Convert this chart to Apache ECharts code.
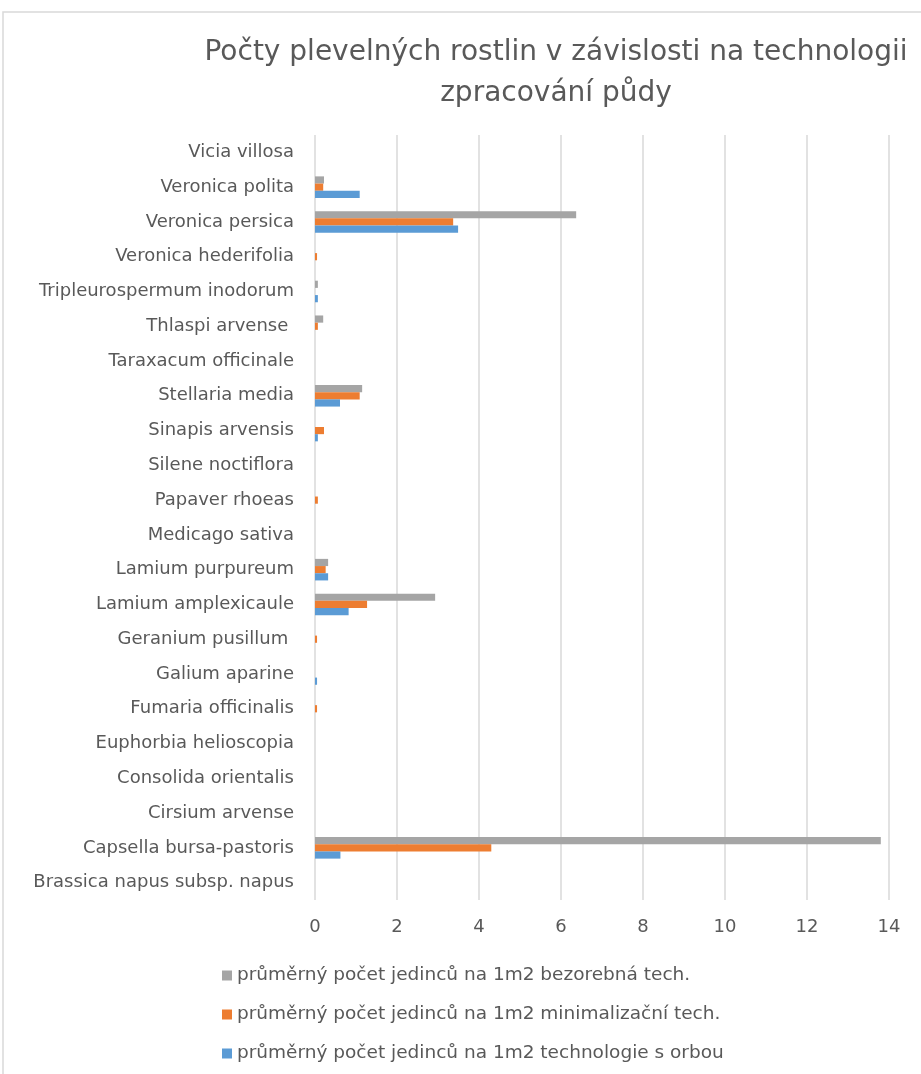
<!DOCTYPE html>
<html>
<head>
<meta charset="utf-8">
<script src="https://cdn.jsdelivr.net/npm/echarts@6/dist/echarts.min.js"></script>
<style>
  html, body { margin: 0; padding: 0; background: #fff; }
  #chart { width: 921px; height: 1074px; }
</style>
</head>
<body>
<div id="chart"></div>
<script>
// Species, listed from the bottom of the chart upwards
const categories = [
  'Brassica napus subsp. napus',
  'Capsella bursa-pastoris',
  'Cirsium arvense',
  'Consolida orientalis',
  'Euphorbia helioscopia',
  'Fumaria officinalis',
  'Galium aparine',
  'Geranium pusillum ',
  'Lamium amplexicaule',
  'Lamium purpureum',
  'Medicago sativa',
  'Papaver rhoeas',
  'Silene noctiflora',
  'Sinapis arvensis',
  'Stellaria media',
  'Taraxacum officinale',
  'Thlaspi arvense ',
  'Tripleurospermum inodorum',
  'Veronica hederifolia',
  'Veronica persica',
  'Veronica polita',
  'Vicia villosa'
];

// Average number of individuals per 1 m2
const noTillage = [0, 13.8, 0, 0, 0, 0, 0, 0, 2.93, 0.32, 0, 0, 0, 0, 1.15, 0, 0.2, 0.07, 0, 6.37, 0.22, 0];
const minimumTillage = [0, 4.3, 0, 0, 0, 0.05, 0, 0.05, 1.27, 0.26, 0, 0.07, 0, 0.22, 1.09, 0, 0.07, 0, 0.05, 3.37, 0.2, 0];
const ploughing = [0, 0.62, 0, 0, 0, 0, 0.05, 0, 0.82, 0.32, 0, 0, 0, 0.07, 0.61, 0, 0, 0.07, 0, 3.49, 1.09, 0];

const seriesNames = [
  'průměrný počet jedinců na 1m2 bezorebná tech.',
  'průměrný počet jedinců na 1m2 minimalizační tech.',
  'průměrný počet jedinců na 1m2 technologie s orbou'
];

const xTicks = { min: 0, max: 14, interval: 2 };

const textColor = '#595959';
const fontFamily = '"DejaVu Sans", "Noto Sans", sans-serif';

const chart = echarts.init(document.getElementById('chart'));

chart.setOption({
  animation: false,
  textStyle: { fontFamily: fontFamily },
  graphic: [{
    type: 'rect',
    shape: { x: 3, y: 12, width: 940, height: 1080 },
    style: { fill: 'none', stroke: '#d9d9d9', lineWidth: 1.5 },
    silent: true
  }],
  title: {
    text: 'Počty plevelných rostlin v závislosti na technologii\nzpracování půdy',
    left: 551,
    top: 27,
    textAlign: 'center',
    textStyle: {
      color: textColor,
      fontSize: 28,
      fontWeight: 'normal',
      fontFamily: fontFamily,
      lineHeight: 41
    }
  },
  legend: {
    orient: 'vertical',
    left: 217,
    top: 961,
    itemWidth: 10,
    itemHeight: 10,
    itemGap: 20,
    icon: 'rect',
    data: [seriesNames[0], seriesNames[1], seriesNames[2]],
    textStyle: { color: textColor, fontSize: 18.5, fontFamily: fontFamily }
  },
  grid: {
    left: 315,
    right: 32,
    top: 135,
    bottom: 174,
    containLabel: false
  },
  xAxis: {
    type: 'value',
    min: xTicks.min,
    max: xTicks.max,
    interval: xTicks.interval,
    axisLine: { show: false },
    axisTick: { show: false },
    axisLabel: { color: textColor, fontSize: 18, margin: 18 },
    splitLine: { lineStyle: { color: '#d9d9d9', width: 1.5 } }
  },
  yAxis: {
    type: 'category',
    data: categories,
    axisLine: { show: false },
    axisTick: { show: false },
    axisLabel: { color: textColor, fontSize: 18, margin: 21, interval: 0 }
  },
  series: [
    {
      name: seriesNames[0],
      type: 'bar',
      data: noTillage,
      itemStyle: { color: '#a5a5a5' },
      barGap: '0%',
      barCategoryGap: '38%'
    },
    {
      name: seriesNames[1],
      type: 'bar',
      data: minimumTillage,
      itemStyle: { color: '#ed7d31' },
      barGap: '0%',
      barCategoryGap: '38%'
    },
    {
      name: seriesNames[2],
      type: 'bar',
      data: ploughing,
      itemStyle: { color: '#5b9bd5' },
      barGap: '0%',
      barCategoryGap: '38%'
    }
  ]
});
</script>
</body>
</html>
